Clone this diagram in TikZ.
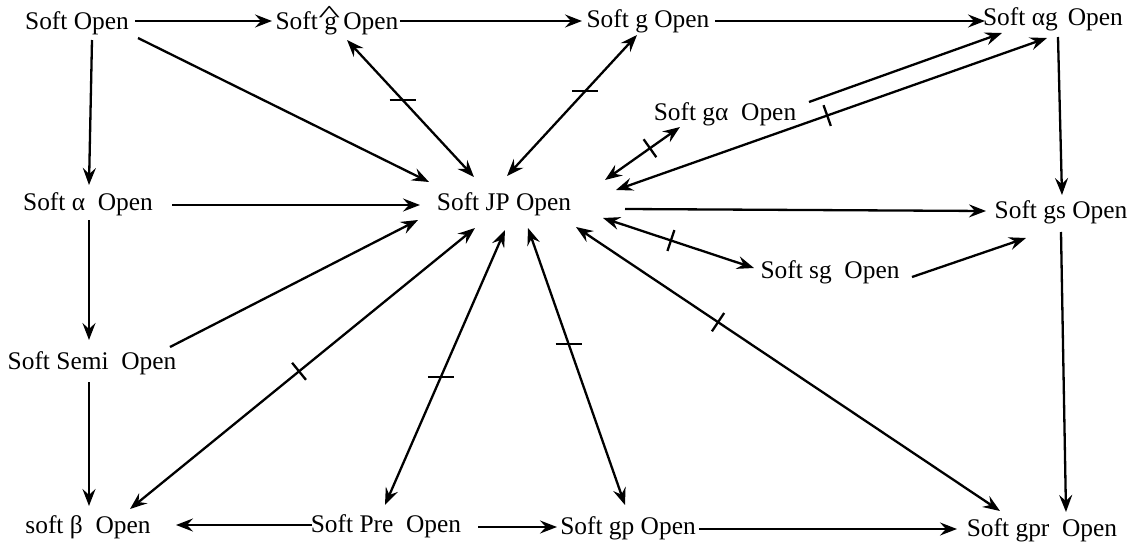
\documentclass[tikz,border=0pt]{standalone}
\usepackage{fontspec}
\setmainfont{Liberation Serif}
\usetikzlibrary{arrows.meta,calc,decorations.markings}
\newcommand{\bighatg}{\makebox[0pt][l]{\hspace{-3pt}\raisebox{3.9pt}{\scalebox{1.9}[1]{\fontsize{12.3}{12}\selectfont\textasciicircum}}}g}
\begin{document}
\begin{tikzpicture}[x=0.5pt,y=-0.5pt,
  lbl/.style={inner sep=0pt, text height=8.7pt, text depth=2.8pt, font=\fontsize{12.7}{15}\selectfont},
  tipa/.tip={Stealth[length=8.5pt,width=6.5pt,inset=3pt]},
  arr/.style={-tipa, line width=1.15pt},
  darr/.style={tipa-tipa, line width=1.15pt},
  tickp/.style={decoration={markings, mark=at position #1 with {\draw[-, line width=1.15pt] (0,-11)--(0,11);}}, postaction={decorate}},
  tickh/.style={decoration={markings, mark=at position #1 with {\pgftransformresetnontranslations\draw[-, line width=1.15pt] (-13,0)--(13,0);}}, postaction={decorate}}
]
\fill[white] (0,0) rectangle (1137,546);
\useasboundingbox (0,0) rectangle (1137,546);

\node[lbl] (open)  at (77,24)   {Soft Open};
\node[lbl] (ghat)  at (337,24)  {Soft \bighatg{} Open};
\node[lbl] (g)     at (648,22)  {Soft g Open};
\node[lbl] (ag)    at (1053,20) {Soft αg\hspace{0.15em} Open};
\node[lbl] (ga)    at (725,115) {Soft gα~ Open};
\node[lbl] (alpha) at (88,205)  {Soft α~ Open};
\node[lbl] (jp)    at (504,205) {Soft JP Open};
\node[lbl] (gs)    at (1061,213){Soft gs Open};
\node[lbl] (sg)    at (830,273) {Soft sg~ Open};
\node[lbl] (semi)  at (92,364)  {Soft Semi~ Open};
\node[lbl] (beta)  at (88,528)  {soft β~ Open};
\node[lbl] (pre)   at (386,527) {Soft Pre~ Open};
\node[lbl] (gp)    at (628,529) {Soft gp Open};
\node[lbl] (gpr)   at (1042,531){Soft gpr~ Open};

% top row
\draw[arr] ($(open)+(58,-3)$) -- ($(ghat)+(-65,-3)$);
\draw[arr] ($(ghat)+(63,-3)$) -- ($(g)+(-66,-1)$);
\draw[arr] ($(g)+(67,-1)$) -- ($(ag)+(-68,1)$);
% left column
\draw[arr] ($(open)+(15,16)$) -- ($(alpha)+(1,-20)$);
\draw[arr] ($(alpha)+(1,15)$) -- ($(semi)+(-3,-24)$);
\draw[arr] ($(semi)+(-3,18)$) -- ($(beta)+(1,-22)$);
% into JP
\draw[arr] ($(open)+(61,14)$) -- ($(jp)+(-75,-23)$);
\draw[arr] ($(alpha)+(84,0)$) -- ($(jp)+(-84,0)$);
\draw[arr] ($(semi)+(78,-17)$) -- ($(jp)+(-86,15)$);
% double arrows with ticks
\draw[darr,tickp=0.49] ($(beta)+(42,-19)$) -- ($(jp)+(-29,23)$);
\draw[darr,tickh=0.465] ($(pre)+(-1,-22)$) -- ($(jp)+(1,25)$);
\draw[darr,tickh=0.58] ($(gp)+(-3,-24)$) -- ($(jp)+(24,23)$);
\draw[darr,tickp=0.665] ($(gpr)+(-42,-20)$) -- ($(jp)+(72,22)$);
\draw[darr,tickp=0.45] ($(jp)+(99,13)$) -- ($(sg)+(-76,-5)$);
\draw[darr,tickp=0.6] ($(jp)+(101,-25)$) -- ($(ga)+(-45,12)$);
\draw[darr,tickp=0.49] ($(jp)+(112,-15)$) -- ($(ag)+(-6,18)$);
\draw[darr,tickh=0.44] ($(ghat)+(10,16)$) -- ($(jp)+(-30,-28)$);
\draw[darr,tickh=0.4] ($(g)+(-11,13)$) -- ($(jp)+(3,-29)$);
% bottom row
\draw[arr] ($(pre)+(-74,-2)$) -- ($(beta)+(88,-3)$);
\draw[arr] ($(pre)+(92,0)$) -- ($(gp)+(-71,-2)$);
\draw[arr] ($(gp)+(71,0)$) -- ($(gpr)+(-85,-2)$);
% right side
\draw[arr] ($(ag)+(5,17)$) -- ($(gs)+(1,-18)$);
\draw[arr] ($(gs)+(0,19)$) -- ($(gpr)+(24,-19)$);
\draw[arr] ($(jp)+(121,4)$) -- ($(gs)+(-75,-2)$);
\draw[arr] ($(sg)+(82,4)$) -- ($(gs)+(-35,25)$);
\draw[arr] ($(ga)+(84,-13)$) -- ($(ag)+(-51,13)$);
\end{tikzpicture}
\end{document}
